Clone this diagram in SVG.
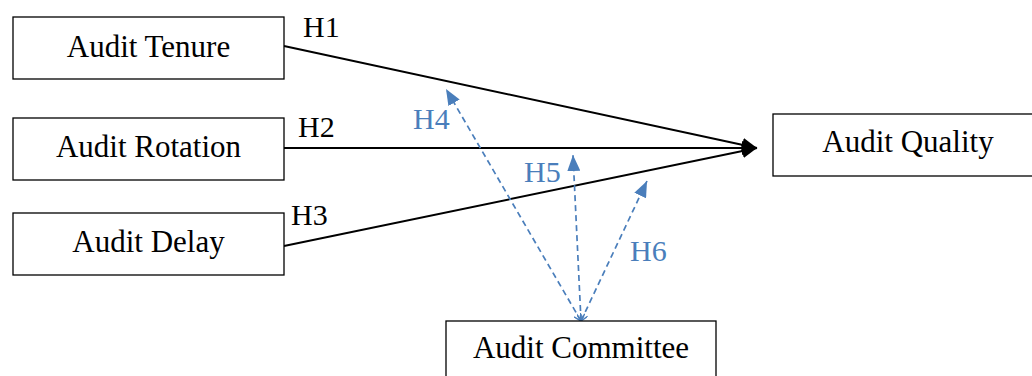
<svg xmlns="http://www.w3.org/2000/svg" width="1032" height="376" viewBox="0 0 1032 376">
<style>
.box{fill:#fff;stroke:#000;stroke-width:1.3}
.lbl{font-family:"Liberation Serif",serif;font-size:31px;fill:#000;text-anchor:middle}
.h{font-family:"Liberation Serif",serif;font-size:30px;fill:#000}
.hb{font-family:"Liberation Serif",serif;font-size:30px;fill:#4a7ebb}
.solid{stroke:#000;stroke-width:2;fill:none}
.dash{stroke:#4a7ebb;stroke-width:1.7;fill:none;stroke-dasharray:6 4}
</style>
<defs>
<marker id="ab" viewBox="0 0 15 14" refX="15" refY="7" markerWidth="15" markerHeight="14" markerUnits="userSpaceOnUse" orient="auto">
<path d="M0,0 L15,7 L0,14 Z" fill="#000"/>
</marker>
<marker id="bb" viewBox="0 0 16 13" refX="16" refY="6.5" markerWidth="16" markerHeight="13" markerUnits="userSpaceOnUse" orient="auto">
<path d="M0,0 L16,6.5 L0,13 Z" fill="#4a7ebb"/>
</marker>
<marker id="bs" viewBox="0 0 8 8" refX="0" refY="4" markerWidth="8" markerHeight="8" markerUnits="userSpaceOnUse" orient="auto">
<path d="M7,0 L0,4 L7,8" fill="none" stroke="#4a7ebb" stroke-width="1.4"/>
</marker>
</defs>
<g id="connectors">
<line class="solid" x1="284" y1="46" x2="757" y2="148" marker-end="url(#ab)"/>
<line class="solid" x1="284" y1="148" x2="757" y2="148" marker-end="url(#ab)"/>
<line class="solid" x1="284" y1="246" x2="757" y2="148" marker-end="url(#ab)"/>
<line class="dash" x1="581" y1="321" x2="446" y2="89" marker-end="url(#bb)" marker-start="url(#bs)"/>
<line class="dash" x1="581" y1="321" x2="573" y2="155" marker-end="url(#bb)" marker-start="url(#bs)"/>
<line class="dash" x1="581" y1="321" x2="647" y2="181" marker-end="url(#bb)" marker-start="url(#bs)"/>
<text class="h" x="303" y="37">H1</text>
<text class="h" x="298" y="137">H2</text>
<text class="h" x="291" y="225">H3</text>
<text class="hb" x="413" y="129">H4</text>
<text class="hb" x="524" y="182">H5</text>
<text class="hb" x="630" y="261">H6</text>
</g>
<g id="audit-tenure">
<rect class="box" x="13" y="17" width="271" height="62"/>
<text class="lbl" x="148.5" y="57">Audit Tenure</text>
</g>
<g id="audit-rotation">
<rect class="box" x="13" y="118" width="271" height="62"/>
<text class="lbl" x="148.5" y="157">Audit Rotation</text>
</g>
<g id="audit-delay">
<rect class="box" x="13" y="213" width="271" height="62"/>
<text class="lbl" x="148.5" y="252">Audit Delay</text>
</g>
<g id="audit-quality">
<rect class="box" x="773" y="114" width="270" height="62"/>
<text class="lbl" x="908" y="152">Audit Quality</text>
</g>
<g id="audit-committee">
<rect class="box" x="446" y="321" width="270" height="62"/>
<text class="lbl" x="581" y="358">Audit Committee</text>
</g>
</svg>
